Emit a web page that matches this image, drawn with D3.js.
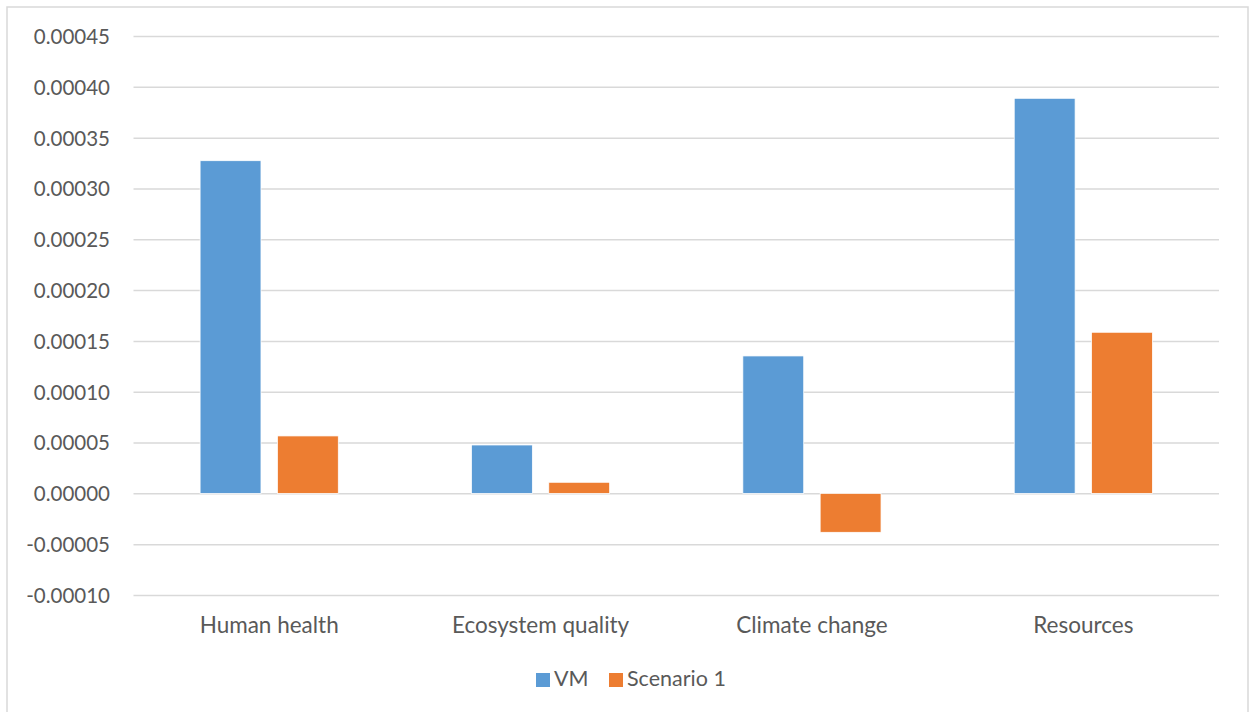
<!DOCTYPE html>
<html>
<head>
<meta charset="utf-8">
<script src="https://cdn.jsdelivr.net/npm/d3@7"></script>
<style>
  html, body { margin: 0; padding: 0; background: #fff; }
  svg { display: block; font-family: Lato, "Open Sans", sans-serif; }
</style>
</head>
<body>
<svg id="chart" width="1251" height="712"></svg>
<script>
const categories = ["Human health", "Ecosystem quality", "Climate change", "Resources"];
const seriesNames = ["VM", "Scenario 1"];
const vmValues = [0.0003273, 0.0000476, 0.0001352, 0.0003887];
const scenario1Values = [0.0000565, 0.0000109, -0.0000383, 0.0001585];
const yTicks = [-0.0001, -0.00005, 0, 0.00005, 0.0001, 0.00015, 0.0002, 0.00025, 0.0003, 0.00035, 0.0004, 0.00045];
const colors = ["#5B9BD5", "#ED7D31"];

const series = [vmValues, scenario1Values];

const svg = d3.select("#chart");
const FONT = "Lato, 'Open Sans', sans-serif";

// outer chart border
svg.append("rect")
  .attr("x", 7).attr("y", 7)
  .attr("width", 1241).attr("height", 720)
  .attr("fill", "#fff")
  .attr("stroke", "#D9D9D9").attr("stroke-width", 1.5);

const plotL = 133.5, plotR = 1219, plotT = 36, plotB = 595;

const y = d3.scaleLinear().domain([-0.0001, 0.00045]).range([plotB, plotT]);

const x0 = d3.scaleBand().domain(categories).range([plotL, plotR]).padding(0);
const x1 = d3.scaleBand().domain(seriesNames).range([0, x0.bandwidth()])
  .paddingInner(0.2126).paddingOuter(0.8615);

const fmt = d => {
  const s = Math.abs(d).toFixed(5);
  return (d < 0 ? "-" : "") + s;
};

// gridlines + tick labels
const yAxis = d3.axisLeft(y).tickValues(yTicks).tickSize(-(plotR - plotL)).tickPadding(24)
  .tickFormat(fmt);
const gy = svg.append("g").attr("transform", `translate(${plotL},0)`).call(yAxis)
  .attr("font-family", FONT);
gy.select(".domain").remove();
gy.selectAll(".tick line").attr("stroke", "#D9D9D9").attr("stroke-width", 1.5);
gy.selectAll(".tick text")
  .attr("fill", "#595959")
  .attr("font-size", "20.5px")
  .attr("x", 110 - plotL)
  .attr("dy", "0.36em");

// bars
const groups = svg.append("g").selectAll("g")
  .data(categories)
  .join("g")
  .attr("transform", d => `translate(${x0(d)},0)`);

groups.selectAll("rect")
  .data((d, i) => seriesNames.map((s, j) => ({ s, v: series[j][i], j })))
  .join("rect")
  .attr("x", d => x1(d.s))
  .attr("width", x1.bandwidth())
  .attr("y", d => y(Math.max(0, d.v)))
  .attr("height", d => Math.abs(y(d.v) - y(0)))
  .attr("fill", d => colors[d.j])
  .attr("stroke", "#fff").attr("stroke-width", 0.75);

// category labels
const xAxis = d3.axisBottom(x0).tickSize(0).tickPadding(0);
const gx = svg.append("g").call(xAxis).attr("font-family", FONT);
gx.select(".domain").remove();
gx.selectAll(".tick text")
  .attr("y", 633)
  .attr("dy", 0)
  .attr("fill", "#595959")
  .attr("font-size", "22.5px");

// legend
const legendItems = [
  { name: seriesNames[0], color: colors[0], x: 536 },
  { name: seriesNames[1], color: colors[1], x: 609 }
];
const lg = svg.append("g");
legendItems.forEach(it => {
  lg.append("rect").attr("x", it.x).attr("y", 673).attr("width", 14).attr("height", 14).attr("fill", it.color);
  lg.append("text").attr("x", it.x + 18).attr("y", 686)
    .attr("fill", "#595959").attr("font-size", "21.5px").text(it.name);
});
</script>
</body>
</html>
